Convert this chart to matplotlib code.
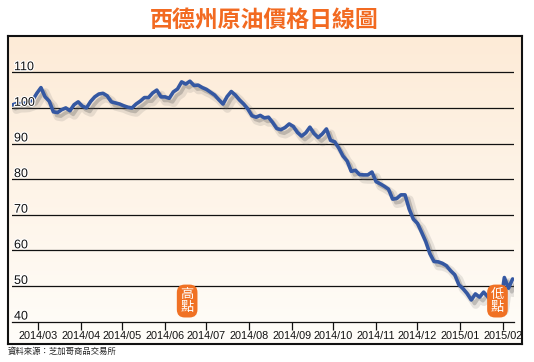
import numpy as np
import pandas as pd
import matplotlib
matplotlib.use("Agg")
import matplotlib.pyplot as plt
import matplotlib.patheffects as pe
from matplotlib.colors import LinearSegmentedColormap

# ---------------- data ----------------
title = "西德州原油價格日線圖"
source = "資料來源：芝加哥商品交易所"
start_date = "2014-02-10"
prices = [
    100.8, 101.2, 101.2, 101.3, 101.7, 102.2, 104.1, 105.7, 103.1, 101.9,
    98.9, 98.7, 99.5, 100.0, 99.2, 100.9, 101.7, 100.5, 100.0, 101.8,
    103.1, 103.9, 104.1, 103.4, 101.7, 101.4, 101.1, 100.6, 100.2, 100.0,
    101.1, 101.9, 102.9, 102.9, 104.2, 105.0, 103.1, 103.1, 102.7, 104.5,
    105.3, 107.3, 106.7, 107.5, 106.3, 106.4, 105.7, 105.2, 104.4, 103.6,
    102.3, 101.1, 103.2, 104.6, 103.6, 102.2, 101.1, 99.7, 97.8, 97.4,
    97.9, 97.2, 97.4, 95.9, 94.2, 93.9, 94.5, 95.5, 94.8, 93.1,
    92.1, 93.0, 94.6, 92.8, 91.7, 92.7, 94.1, 90.9, 90.5, 88.7,
    86.5, 85.1, 82.2, 82.5, 81.3, 81.2, 81.2, 82.0, 79.3, 78.7,
    78.0, 77.2, 74.4, 74.6, 75.6, 75.6, 71.6, 68.8, 67.6, 65.1,
    62.5, 59.1, 56.9, 56.8, 56.4, 55.7, 54.3, 53.2, 50.4, 49.3,
    47.9, 46.1, 47.8, 46.9, 48.3, 47.0, 45.6, 44.9, 44.3, 52.4,
    49.4, 52.0,
]
dates = pd.date_range(start_date, periods=len(prices), freq="3D")
month_ticks = pd.date_range("2014-03-01", "2015-02-01", freq="MS")
month_labels = [d.strftime("%Y/%m") for d in month_ticks]
y_levels = [40, 50, 60, 70, 80, 90, 100, 110]
x_range = ("2014-02-10", "2015-02-09")
high_label, high_date = "高\n點", "2014-06-17"
low_label, low_date = "低\n點", "2015-01-28"
badge_level = 45.8

# ---------------- layout ----------------
W, H = 534, 362
fig = plt.figure(figsize=(W / 100, H / 100), dpi=100)
fig.patch.set_facecolor("white")

cjk = ["Noto Sans CJK TC", "DejaVu Sans"]
num_font = ["Liberation Sans", "DejaVu Sans"]

# framed background with gradient
ax_bg = fig.add_axes([8 / W, 1 - 344 / H, 514 / W, 308 / H])
cmap = LinearSegmentedColormap.from_list("bg", ["#fffdf9", "#fdebd7"])
grad = np.linspace(0, 1, 256).reshape(-1, 1)
ax_bg.imshow(grad, aspect="auto", cmap=cmap, origin="lower",
             extent=[0, 1, 0, 1])
ax_bg.set_xticks([])
ax_bg.set_yticks([])
for s in ax_bg.spines.values():
    s.set_linewidth(1.5)
    s.set_color("#111111")

# main plotting axes
y_bottom_px, y_top_px = 321.7, 40.0
px_per_unit = 3.563
ax = fig.add_axes([12 / W, 1 - y_bottom_px / H, 502 / W,
                   (y_bottom_px - y_top_px) / H])
ax.patch.set_alpha(0)
ax.set_xlim(pd.Timestamp(x_range[0]), pd.Timestamp(x_range[1]))
ax.set_ylim(40, 40 + (y_bottom_px - y_top_px) / px_per_unit)

for s in ["top", "right", "left"]:
    ax.spines[s].set_visible(False)
ax.spines["bottom"].set_linewidth(0.9)
ax.spines["bottom"].set_color("#111111")

for v in y_levels[1:]:
    ax.axhline(v, color="#111111", lw=0.9, zorder=1)

ax.set_yticks([])
ax.set_xticks(month_ticks)
ax.set_xticklabels(month_labels, fontsize=7.8, family=num_font, color="#111111")
ax.tick_params(axis="x", direction="out", length=5.5, width=0.9, pad=1.5,
               color="#111111")

# price line with soft shadow
ax.plot(dates, prices, color="#3558a2", lw=2.6, solid_joinstyle="round",
        solid_capstyle="round", zorder=3,
        path_effects=[
            pe.SimpleLineShadow(offset=(3.2, -3.4), shadow_color="#666666",
                                alpha=0.15, linewidth=6),
            pe.SimpleLineShadow(offset=(2.4, -2.6), shadow_color="#555555",
                                alpha=0.28),
            pe.Normal(),
        ])

# y value labels sitting above each line
for v in y_levels:
    ax.text(0.004, v + 0.6, str(v), transform=ax.get_yaxis_transform(),
            ha="left", va="baseline", fontsize=9, family=num_font,
            color="#111111", zorder=4,
            path_effects=[pe.withStroke(linewidth=1.6, foreground="white")])

# badges
for lab, d in [(high_label, high_date), (low_label, low_date)]:
    ax.text(pd.Timestamp(d), badge_level, lab, ha="center", va="center",
            color="white", fontsize=9.5, family=cjk, linespacing=0.95,
            zorder=6,
            bbox=dict(boxstyle="round,pad=0.28,rounding_size=0.6",
                      fc="#f07124", ec="none"))

# title and source
fig.text(264 / W, 1 - 20 / H, title, ha="center", va="center",
         fontsize=16.5, fontweight="bold", color="#f26a21", family=cjk)
fig.text(8 / W, 1 - 351 / H, source, ha="left", va="center",
         fontsize=6, color="#222222", family=cjk)

fig.savefig("out.png", dpi=100)
